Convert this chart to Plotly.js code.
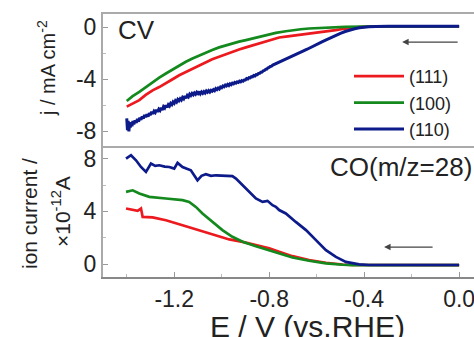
<!DOCTYPE html>
<html>
<head>
<meta charset="utf-8">
<script src="https://cdn.plot.ly/plotly-3.0.1.min.js"></script>
<style>html,body{margin:0;padding:0;background:#fff;overflow:hidden}#chart{width:474px;height:337px}</style>
</head>
<body>
<div id="chart"></div>
<script>
// ---------- Data ----------
// CV panel: current density j (mA cm^-2) vs potential E (V vs RHE)
var cvE_111 = [-1.40,-1.37,-1.347,-1.32,-1.291,-1.263,-1.235,-1.207,-1.179,-1.151,-1.123,-1.095,-1.067,-1.04,-1.011,-0.983,-0.955,-0.927,-0.898,-0.87,-0.842,-0.786,-0.758,-0.73,-0.702,-0.667,-0.632,-0.60,-0.561,-0.52,-0.491,-0.45,-0.42,-0.38,-0.30,-0.20,-0.10,0.0];
var cvJ_111 = [-6.1,-5.85,-5.6,-5.2,-4.85,-4.6,-4.33,-4.0,-3.7,-3.45,-3.18,-2.92,-2.67,-2.47,-2.28,-2.08,-1.9,-1.72,-1.56,-1.41,-1.22,-0.93,-0.80,-0.73,-0.67,-0.58,-0.49,-0.41,-0.33,-0.24,-0.15,-0.05,0.0,0.04,0.05,0.05,0.05,0.05];

var cvE_100 = [-1.40,-1.375,-1.347,-1.32,-1.291,-1.263,-1.235,-1.207,-1.179,-1.151,-1.123,-1.095,-1.067,-1.04,-1.011,-0.983,-0.955,-0.927,-0.898,-0.87,-0.842,-0.80,-0.772,-0.73,-0.702,-0.667,-0.632,-0.597,-0.561,-0.52,-0.48,-0.40,-0.30,0.0];
var cvJ_100 = [-5.67,-5.3,-4.97,-4.6,-4.2,-3.88,-3.56,-3.24,-2.92,-2.66,-2.41,-2.18,-1.97,-1.76,-1.56,-1.4,-1.26,-1.12,-1.0,-0.88,-0.72,-0.55,-0.45,-0.32,-0.24,-0.17,-0.11,-0.07,-0.04,-0.01,0.02,0.04,0.05,0.05];

var cvE_110 = [-1.40,-1.397,-1.394,-1.391,-1.388,-1.385,-1.382,-1.378,-1.374,-1.37,-1.365,-1.36,-1.355,-1.35,-1.345,-1.34,-1.335,-1.33,-1.325,-1.32,-1.315,-1.31,-1.305,-1.30,-1.295,-1.29,-1.285,-1.28,-1.275,-1.27,-1.265,-1.26,-1.255,-1.25,-1.245,-1.24,-1.235,-1.23,-1.225,-1.22,-1.215,-1.21,-1.205,-1.20,-1.195,-1.19,-1.185,-1.18,-1.175,-1.17,-1.165,-1.16,-1.155,-1.15,-1.145,-1.14,-1.135,-1.13,-1.125,-1.12,-1.115,-1.11,-1.105,-1.10,-1.095,-1.09,-1.085,-1.08,-1.075,-1.07,-1.065,-1.06,-1.055,-1.05,-1.045,-1.04,-1.035,-1.03,-1.025,-1.02,-1.015,-1.01,-1.005,-1.00,-0.995,-0.99,-0.985,-0.98,-0.975,-0.97,-0.965,-0.96,-0.955,-0.95,-0.945,-0.94,-0.935,-0.93,-0.925,-0.92,-0.915,-0.91,-0.905,-0.90,-0.895,-0.89,-0.885,-0.88,-0.875,-0.87,-0.865,-0.86,-0.855,-0.85,-0.845,-0.84,-0.835,-0.83,-0.825,-0.82,-0.815,-0.81,-0.805,-0.80,-0.795,-0.79,-0.785,-0.78,-0.77,-0.76,-0.74,-0.72,-0.70,-0.68,-0.66,-0.64,-0.62,-0.60,-0.58,-0.56,-0.54,-0.52,-0.50,-0.48,-0.46,-0.44,-0.42,-0.40,-0.38,-0.35,-0.30,0.0];
var cvJ_110 = [-7.0,-7.9,-7.2,-8.0,-7.4,-7.7,-7.3,-7.6,-7.2,-7.45,-7.15,-7.35,-7.05,-7.25,-6.95,-7.1,-6.85,-7.0,-6.75,-6.9,-6.7,-6.85,-6.6,-6.75,-6.5,-6.65,-6.45,-6.55,-6.35,-6.5,-6.3,-6.4,-6.2,-6.35,-6.1,-6.2,-6.0,-6.15,-5.95,-6.05,-5.85,-5.95,-5.75,-5.85,-5.65,-5.75,-5.55,-5.65,-5.5,-5.6,-5.4,-5.5,-5.3,-5.45,-5.25,-5.35,-5.15,-5.25,-5.1,-5.2,-5.05,-5.15,-5.0,-5.1,-4.95,-5.12,-4.98,-5.08,-4.95,-5.05,-4.9,-5.0,-4.88,-4.98,-4.85,-4.92,-4.8,-4.88,-4.72,-4.8,-4.68,-4.75,-4.6,-4.65,-4.52,-4.58,-4.45,-4.52,-4.4,-4.48,-4.35,-4.42,-4.3,-4.35,-4.25,-4.3,-4.2,-4.25,-4.15,-4.2,-4.1,-4.15,-4.05,-4.05,-3.95,-3.98,-3.88,-3.9,-3.8,-3.82,-3.72,-3.75,-3.65,-3.66,-3.56,-3.55,-3.46,-3.45,-3.35,-3.33,-3.24,-3.22,-3.12,-3.1,-3.02,-3.0,-2.92,-2.88,-2.78,-2.7,-2.55,-2.4,-2.25,-2.05,-1.87,-1.7,-1.5,-1.32,-1.15,-0.98,-0.8,-0.63,-0.48,-0.34,-0.22,-0.13,-0.06,-0.01,0.03,0.05,0.06,0.06];

// MS panel: CO (m/z=28) ion current (x10^-12 A) vs E
var msE_111 = [-1.403,-1.375,-1.354,-1.34,-1.333,-1.291,-1.235,-1.165,-1.095,-1.024,-0.968,-0.912,-0.856,-0.80,-0.758,-0.702,-0.632,-0.561,-0.491,-0.45,0.0];
var msI_111 = [4.22,4.09,4.04,4.22,3.58,3.54,3.33,2.95,2.58,2.2,1.87,1.69,1.44,1.19,0.93,0.6,0.3,0.1,-0.03,-0.07,-0.08];

var msE_100 = [-1.403,-1.375,-1.347,-1.305,-1.235,-1.165,-1.137,-1.109,-1.081,-1.039,-0.997,-0.955,-0.912,-0.856,-0.80,-0.758,-0.702,-0.632,-0.561,-0.491,-0.45,0.0];
var msI_100 = [5.48,5.6,5.36,5.1,4.98,4.85,4.72,4.34,3.84,3.2,2.58,2.07,1.69,1.36,1.06,0.81,0.5,0.25,0.05,-0.05,-0.08,-0.08];

var msE_110 = [-1.403,-1.382,-1.361,-1.34,-1.319,-1.298,-1.28,-1.263,-1.24,-1.221,-1.2,-1.186,-1.165,-1.13,-1.102,-1.085,-1.067,-1.045,-1.024,-0.982,-0.955,-0.94,-0.912,-0.884,-0.856,-0.828,-0.807,-0.786,-0.772,-0.758,-0.73,-0.688,-0.645,-0.603,-0.561,-0.519,-0.477,-0.421,-0.38,0.0];
var msI_110 = [8.0,8.26,7.88,7.37,7.0,7.63,7.45,7.5,7.4,7.37,7.25,7.68,7.37,7.12,6.36,6.7,6.82,6.7,6.74,6.67,6.67,6.49,5.98,5.48,4.98,4.72,4.8,4.47,4.35,4.1,3.84,3.2,2.58,1.82,1.06,0.55,0.17,-0.02,-0.07,-0.07];

var labels = ['(111)', '(100)', '(110)'];
var colors = ['#ec1a1e', '#14891e', '#0c1a8a'];

// ---------- Traces ----------
var cvE = [cvE_111, cvE_100, cvE_110], cvJ = [cvJ_111, cvJ_100, cvJ_110];
var msE = [msE_111, msE_100, msE_110], msI = [msI_111, msI_100, msI_110];
var traces = [];
for (var k = 0; k < 3; k++) {
  traces.push({x: cvE[k], y: cvJ[k], type: 'scatter', mode: 'lines', name: labels[k],
    xaxis: 'x', yaxis: 'y', line: {color: colors[k], width: k === 2 ? 3 : 2.7}, showlegend: true, legendgroup: 'g' + k});
}
for (var k = 0; k < 3; k++) {
  traces.push({x: msE[k], y: msI[k], type: 'scatter', mode: 'lines', name: labels[k],
    xaxis: 'x2', yaxis: 'y2', line: {color: colors[k], width: 2.7}, showlegend: false, legendgroup: 'g' + k});
}

var FONT = 'Liberation Sans, Arial, sans-serif';
var frame = '#aaaaaa';
var L = 103, W = 371, T = 14, H = 263;
function px2paperX(p) { return (p - L) / W; }
function px2paperY(p) { return (T + H - p) / H; }

var layout = {
  width: 474, height: 337,
  margin: {l: L, r: 0, t: T, b: 337 - T - H, pad: 0},
  paper_bgcolor: '#fff', plot_bgcolor: '#fff',
  font: {family: FONT, color: '#222', size: 20},
  showlegend: true,
  legend: {x: px2paperX(349), y: px2paperY(58), xanchor: 'left', yanchor: 'top',
    font: {family: FONT, size: 18, color: '#222'}, bgcolor: 'rgba(0,0,0,0)',
    itemwidth: 50, tracegroupgap: 2, traceorder: 'normal'},
  xaxis: {domain: [0, 1], anchor: 'y', range: [-1.5, 0.0627], showticklabels: false,
    showline: true, linecolor: frame, linewidth: 2, mirror: true, ticks: '', showgrid: false, zeroline: false},
  yaxis: {domain: [0.5, 1], anchor: 'x', range: [-9.08, 1.0], tickvals: [0, -4, -8], ticktext: ['0', '-4', '-8'],
    ticks: 'inside', ticklen: 5, tickcolor: '#999', tickwidth: 1,
    minor: {tickvals: [-2, -6], ticks: 'inside', ticklen: 3, tickcolor: '#bbb'},
    showline: true, linecolor: frame, linewidth: 2, showgrid: false, zeroline: false,
    tickfont: {family: FONT, size: 23, color: '#222'}},
  xaxis2: {domain: [0, 1], anchor: 'y2', matches: 'x', range: [-1.5, 0.0627],
    tickvals: [-1.2, -0.8, -0.4, 0.0], ticktext: ['-1.2', '-0.8', '-0.4', '0.0'],
    ticks: 'inside', ticklen: 5, tickcolor: '#999', tickwidth: 1,
    minor: {tickvals: [-1.4, -1.0, -0.6, -0.2], ticks: 'inside', ticklen: 3, tickcolor: '#bbb'},
    showline: true, linecolor: '#888', linewidth: 2, showgrid: false, zeroline: false,
    ticklabeloverflow: 'allow',
    tickfont: {family: FONT, size: 23, color: '#222'}},
  yaxis2: {domain: [0, 0.5], anchor: 'x2', range: [-0.98, 9.0], tickvals: [0, 4, 8], ticktext: ['0', '4', '8'],
    ticks: 'inside', ticklen: 5, tickcolor: '#999', tickwidth: 1,
    minor: {tickvals: [2, 6], ticks: 'inside', ticklen: 3, tickcolor: '#bbb'},
    showline: true, linecolor: frame, linewidth: 2, showgrid: false, zeroline: false,
    tickfont: {family: FONT, size: 23, color: '#222'}},
  annotations: [
    {xref: 'paper', yref: 'paper', x: px2paperX(46), y: px2paperY(68), text: 'j / mA cm<sup>-2</sup>',
      textangle: -90, showarrow: false, xanchor: 'center', yanchor: 'middle', font: {family: FONT, size: 20, color: '#222'}},
    {xref: 'paper', yref: 'paper', x: px2paperX(29), y: px2paperY(214), text: 'ion current /',
      textangle: -90, showarrow: false, xanchor: 'center', yanchor: 'middle', font: {family: FONT, size: 21, color: '#222'}},
    {xref: 'paper', yref: 'paper', x: px2paperX(61), y: px2paperY(212), text: '\u00d710<sup>-12</sup>A',
      textangle: -90, showarrow: false, xanchor: 'center', yanchor: 'middle', font: {family: FONT, size: 21, color: '#222'}},
    {xref: 'paper', yref: 'paper', x: px2paperX(307), y: px2paperY(308), text: 'E / V (vs.RHE)',
      showarrow: false, xanchor: 'center', yanchor: 'top', font: {family: FONT, size: 30, color: '#222'}},
    {xref: 'paper', yref: 'paper', x: px2paperX(116), y: px2paperY(30), text: 'CV',
      showarrow: false, xanchor: 'left', yanchor: 'middle', font: {family: FONT, size: 26, color: '#222'}},
    {xref: 'paper', yref: 'paper', x: px2paperX(328), y: px2paperY(167), text: 'CO(m/z=28)',
      showarrow: false, xanchor: 'left', yanchor: 'middle', font: {family: FONT, size: 26, color: '#222'}},
    {xref: 'x', yref: 'y', x: -0.24, y: -1.15, text: '', showarrow: true, ax: 57, ay: 0,
      arrowhead: 2, arrowsize: 1, arrowwidth: 1.3, arrowcolor: '#444', standoff: 0},
    {xref: 'x2', yref: 'y2', x: -0.316, y: 1.29, text: '', showarrow: true, ax: 50, ay: 0,
      arrowhead: 2, arrowsize: 1, arrowwidth: 1.3, arrowcolor: '#444', standoff: 0}
  ]
};

Plotly.newPlot('chart', traces, layout, {staticPlot: true, displayModeBar: false});
</script>
</body>
</html>
